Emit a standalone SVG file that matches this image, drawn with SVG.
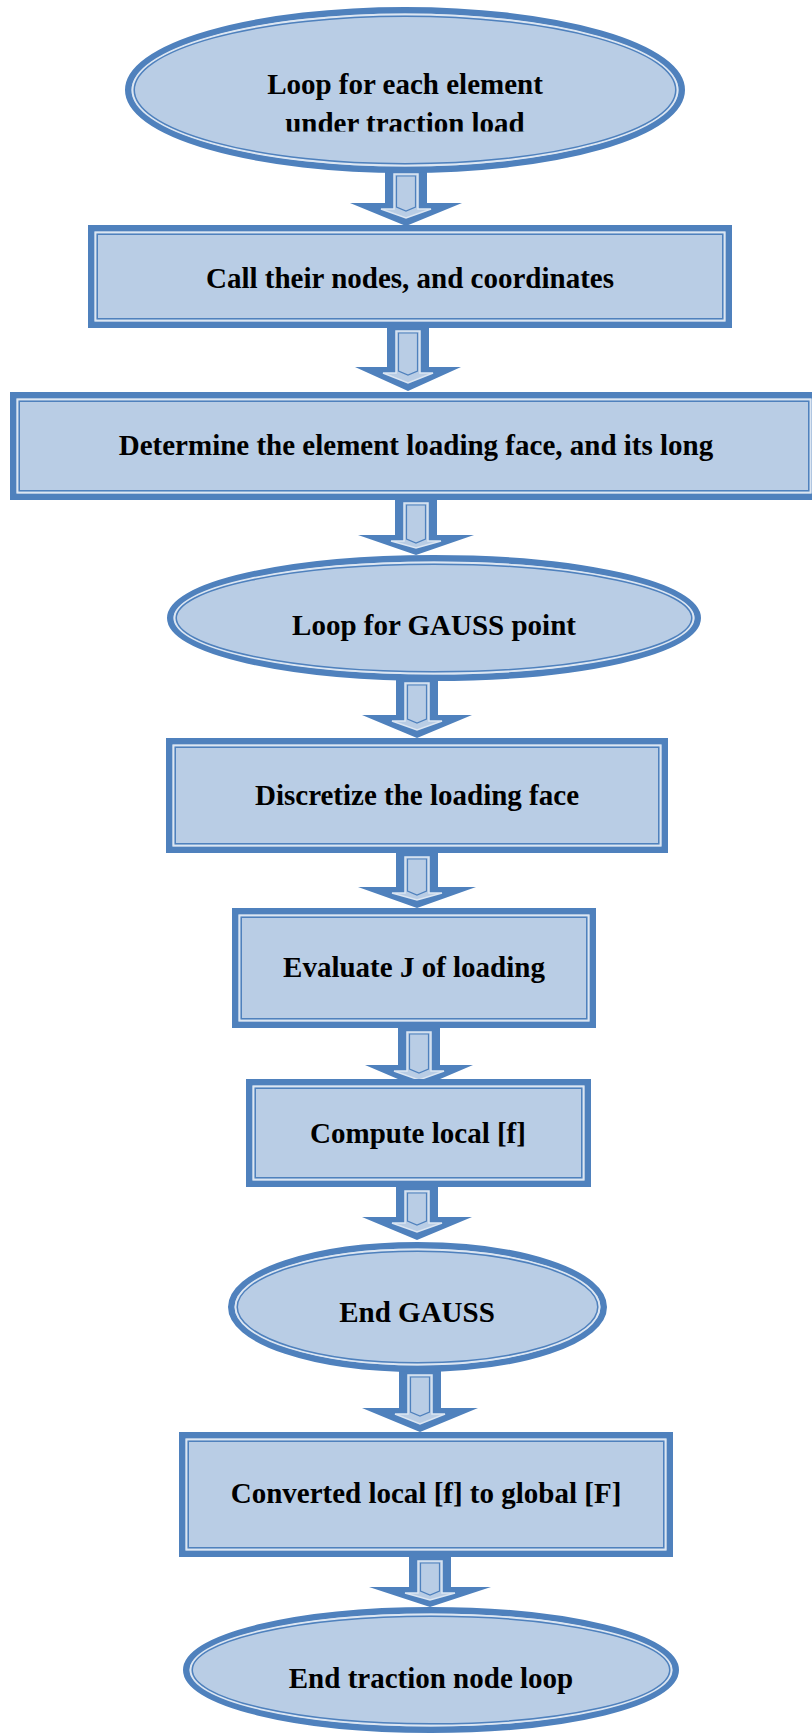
<svg xmlns="http://www.w3.org/2000/svg" width="812" height="1735" viewBox="0 0 812 1735">
  <style>
    .o { fill: #B9CDE5; stroke: #4F81BD; stroke-width: 6.5; }
    .l { fill: none; stroke: #DCE6F2; stroke-width: 2; }
    .i { fill: none; stroke: #4F81BD; stroke-width: 1.5; }
    .ao { fill: #4F81BD; stroke: none; }
    .al { fill: #B9CDE5; stroke: #DCE6F2; stroke-width: 1.5; stroke-linejoin: miter; }
    .ai { fill: none; stroke: #4F81BD; stroke-width: 1.2; }
    .t { font-family: "Liberation Serif", "Times New Roman", serif; font-weight: bold; font-size: 29px; fill: #000; text-anchor: middle; }
  </style>
  <defs>
    <clipPath id="clipStartLabel">
      <rect x="0" y="0" width="812" height="131.5"/>
    </clipPath>
  </defs>

  <!-- block arrows between steps -->
  <g id="connectors">
    <g id="a1">
      <polygon class="ao" points="385,168 427,168 427,203 462,203 406,226 350,203 385,203"/>
      <polygon class="al" points="394,174 418,174 418,209 431,209 406,218 381,209 394,209"/>
      <polygon class="ai" points="396.5,176 415.5,176 415.5,207 406,211 396.5,207"/>
    </g>
    <g id="a2">
      <polygon class="ao" points="387,324 429,324 429,367 461,367 408,391 355,367 387,367"/>
      <polygon class="al" points="396,331 420,331 420,373 433,373 408,383 383,373 396,373"/>
      <polygon class="ai" points="398.5,333 417.5,333 417.5,371 408,375 398.5,371"/>
    </g>
    <g id="a3">
      <polygon class="ao" points="395,496 437,496 437,535 474,535 416,555 358,535 395,535"/>
      <polygon class="al" points="404,503 428,503 428,541 441,541 416,548 391,541 404,541"/>
      <polygon class="ai" points="406.5,505 425.5,505 425.5,539 416,543 406.5,539"/>
    </g>
    <g id="a4">
      <polygon class="ao" points="396,676 438,676 438,715 472,715 417,738 362,715 396,715"/>
      <polygon class="al" points="405,683 429,683 429,721 442,721 417,730 392,721 405,721"/>
      <polygon class="ai" points="407.5,685 426.5,685 426.5,719 417,723 407.5,719"/>
    </g>
    <g id="a5">
      <polygon class="ao" points="396,849 438,849 438,887 476,887 417,908 358,887 396,887"/>
      <polygon class="al" points="405,857 429,857 429,893 442,893 417,900 392,893 405,893"/>
      <polygon class="ai" points="407.5,859 426.5,859 426.5,891 417,895 407.5,891"/>
    </g>
    <g id="a6">
      <polygon class="ao" points="398,1024 440,1024 440,1065 473,1065 419,1088 365,1065 398,1065"/>
      <polygon class="al" points="407,1032 431,1032 431,1071 444,1071 419,1080 394,1071 407,1071"/>
      <polygon class="ai" points="409.5,1034 428.5,1034 428.5,1069 419,1073 409.5,1069"/>
    </g>
    <g id="a7">
      <polygon class="ao" points="396,1183 438,1183 438,1217 472,1217 417,1240 362,1217 396,1217"/>
      <polygon class="al" points="405,1191 429,1191 429,1223 442,1223 417,1232 392,1223 405,1223"/>
      <polygon class="ai" points="407.5,1193 426.5,1193 426.5,1221 417,1225 407.5,1221"/>
    </g>
    <g id="a8">
      <polygon class="ao" points="399,1366 441,1366 441,1408 478,1408 420,1432 362,1408 399,1408"/>
      <polygon class="al" points="408,1375 432,1375 432,1414 445,1414 420,1424 395,1414 408,1414"/>
      <polygon class="ai" points="410.5,1377 429.5,1377 429.5,1412 420,1416 410.5,1412"/>
    </g>
    <g id="a9">
      <polygon class="ao" points="409,1553 451,1553 451,1587 491,1587 430,1607 369,1587 409,1587"/>
      <polygon class="al" points="418,1561 442,1561 442,1593 455,1593 430,1600 405,1593 418,1593"/>
      <polygon class="ai" points="420.5,1563 439.5,1563 439.5,1591 430,1595 420.5,1591"/>
    </g>
  </g>

  <!-- steps -->
  <g id="n1">
    <ellipse class="o" cx="405" cy="90" rx="276.75" ry="79.75"/>
    <ellipse class="l" cx="405" cy="90" rx="272.5" ry="75.5"/>
    <ellipse class="i" cx="405" cy="90" rx="270.75" ry="73.75"/>
    <text class="t" x="405" y="94">Loop for each element</text>
    <text class="t" x="405" y="132.5" clip-path="url(#clipStartLabel)">under traction load</text>
  </g>

  <g id="n2">
    <rect class="o" x="91.25" y="228.25" width="637.5" height="96.5"/>
    <rect class="l" x="95.5" y="232.5" width="629" height="88"/>
    <rect class="i" x="97.25" y="234.25" width="625.5" height="84.5"/>
    <text class="t" x="410" y="288">Call their nodes, and coordinates</text>
  </g>

  <g id="n3">
    <rect class="o" x="13.25" y="395.25" width="801.5" height="101.5"/>
    <rect class="l" x="17.5" y="399.5" width="793" height="93"/>
    <rect class="i" x="19.25" y="401.25" width="789.5" height="89.5"/>
    <text class="t" x="416" y="455">Determine the element loading face, and its long</text>
  </g>

  <g id="n4">
    <ellipse class="o" cx="434" cy="618" rx="263.75" ry="59.75"/>
    <ellipse class="l" cx="434" cy="618" rx="259.5" ry="55.5"/>
    <ellipse class="i" cx="434" cy="618" rx="257.75" ry="53.75"/>
    <text class="t" x="434" y="635">Loop for GAUSS point</text>
  </g>

  <g id="n5">
    <rect class="o" x="169.25" y="741.25" width="495.5" height="108.5"/>
    <rect class="l" x="173.5" y="745.5" width="487" height="100"/>
    <rect class="i" x="175.25" y="747.25" width="483.5" height="96.5"/>
    <text class="t" x="417" y="805">Discretize the loading face</text>
  </g>

  <g id="n6">
    <rect class="o" x="235.25" y="911.25" width="357.5" height="113.5"/>
    <rect class="l" x="239.5" y="915.5" width="349" height="105"/>
    <rect class="i" x="241.25" y="917.25" width="345.5" height="101.5"/>
    <text class="t" x="414" y="977">Evaluate J of loading</text>
  </g>

  <g id="n7">
    <rect class="o" x="249.25" y="1082.25" width="338.5" height="101.5"/>
    <rect class="l" x="253.5" y="1086.5" width="330" height="93"/>
    <rect class="i" x="255.25" y="1088.25" width="326.5" height="89.5"/>
    <text class="t" x="418" y="1143">Compute local [f]</text>
  </g>

  <g id="n8">
    <ellipse class="o" cx="417.5" cy="1307" rx="186.25" ry="61.75"/>
    <ellipse class="l" cx="417.5" cy="1307" rx="182" ry="57.5"/>
    <ellipse class="i" cx="417.5" cy="1307" rx="180.25" ry="55.75"/>
    <text class="t" x="417" y="1322">End GAUSS</text>
  </g>

  <g id="n9">
    <rect class="o" x="182.25" y="1435.25" width="487.5" height="118.5"/>
    <rect class="l" x="186.5" y="1439.5" width="479" height="110"/>
    <rect class="i" x="188.25" y="1441.25" width="475.5" height="106.5"/>
    <text class="t" x="426" y="1503">Converted local [f] to global [F]</text>
  </g>

  <g id="n10">
    <ellipse class="o" cx="431" cy="1670" rx="244.75" ry="59.75"/>
    <ellipse class="l" cx="431" cy="1670" rx="240.5" ry="55.5"/>
    <ellipse class="i" cx="431" cy="1670" rx="238.75" ry="53.75"/>
    <text class="t" x="431" y="1688">End traction node loop</text>
  </g>
</svg>
